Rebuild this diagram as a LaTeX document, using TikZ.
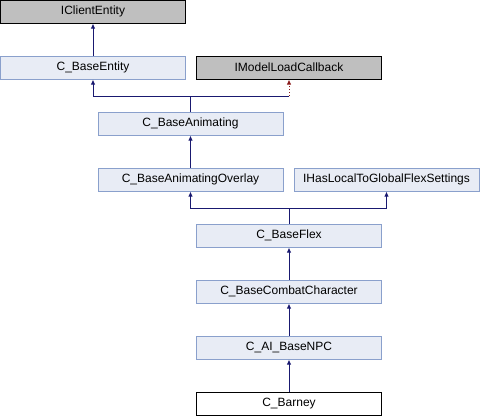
\documentclass[tikz,border=0pt]{standalone}
\usepackage{fontspec}
\setmainfont{Liberation Sans}
\usetikzlibrary{arrows.meta}

\definecolor{boxfill}{HTML}{E8ECF5}
\definecolor{boxborder}{HTML}{8AA0CC}
\definecolor{extfill}{HTML}{BFBFBF}
\definecolor{inhblue}{HTML}{191970}
\definecolor{privred}{HTML}{8B1A1A}

\begin{document}
\begin{tikzpicture}[x=1pt,y=-1pt,
    every node/.style={minimum height=23pt,minimum width=185pt,inner sep=0pt,
        line width=1pt,font=\fontsize{12}{14}\selectfont},
    classbox/.style={draw=boxborder,fill=boxfill},
    extbox/.style={draw=black,fill=extfill},
    thisbox/.style={draw=black,fill=white},
    inh/.style={draw=inhblue,line width=1pt,-{Latex[length=5pt,width=4.5pt]}},
    priv/.style={draw=privred,line width=1pt,dotted,-{Latex[length=5pt,width=4.5pt]}}]
    \useasboundingbox (0,0) rectangle (480,416);

    % Classes
    \node[extbox] (iclient) at (93,11.5) {IClientEntity};
    \node[classbox] (base) at (93,67.5) {C\_BaseEntity};
    \node[extbox] (imodel) at (289,67.5) {IModelLoadCallback};
    \node[classbox] (anim) at (190.5,123.5) {C\_BaseAnimating};
    \node[classbox] (overlay) at (190.5,179.5) {C\_BaseAnimatingOverlay};
    \node[classbox] (ihas) at (386.5,179.5) {IHasLocalToGlobalFlexSettings};
    \node[classbox] (flex) at (289,235.5) {C\_BaseFlex};
    \node[classbox] (combat) at (289,291.5) {C\_BaseCombatCharacter};
    \node[classbox] (npc) at (289,347.5) {C\_AI\_BaseNPC};
    \node[thisbox] (barney) at (289,403.5) {C\_Barney};

    % Junction levels
    \coordinate (j1) at (0,96);
    \coordinate (j2) at (0,208);

    % Inheritance arrows
    \draw[inh] (base.north) -- (iclient.south);
    \draw[inh] (anim.north) -- (anim.north |- j1) -| (base.south);
    \draw[draw=inhblue,line width=1pt] (anim.north |- j1) -- (imodel.south |- j1);
    \draw[priv] (imodel.south |- j1) -- (imodel.south);
    \draw[inh] (overlay.north) -- (anim.south);
    \draw[inh] (flex.north) -- (flex.north |- j2) -| (overlay.south);
    \draw[inh] (flex.north |- j2) -| (ihas.south);
    \draw[inh] (combat.north) -- (flex.south);
    \draw[inh] (npc.north) -- (combat.south);
    \draw[inh] (barney.north) -- (npc.south);
\end{tikzpicture}
\end{document}
